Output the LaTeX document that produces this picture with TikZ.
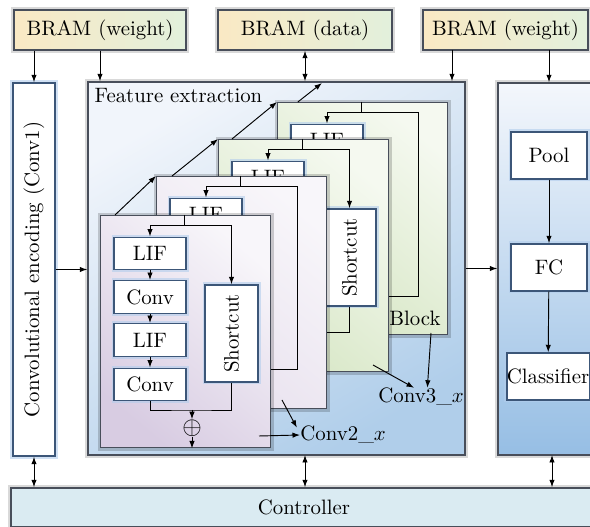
\documentclass[tikz,border=0pt]{standalone}
\usepackage{amsmath,amssymb}
\usepackage{tikz}
\usetikzlibrary{arrows.meta,positioning}

\definecolor{bramL}{RGB}{250,233,196}
\definecolor{bramR}{RGB}{226,240,220}
\definecolor{edge}{RGB}{72,78,90}
\definecolor{boxedge}{RGB}{60,86,120}
\definecolor{glow}{RGB}{178,205,236}
\definecolor{feTop}{RGB}{241,245,251}
\definecolor{feBot}{RGB}{176,206,234}
\definecolor{clsTop}{RGB}{244,247,252}
\definecolor{clsBot}{RGB}{150,190,228}
\definecolor{ctrl}{RGB}{218,235,242}
\definecolor{lavD}{RGB}{216,204,226}
\definecolor{lavL}{RGB}{248,246,250}
\definecolor{grnD}{RGB}{214,230,196}
\definecolor{grnL}{RGB}{245,249,240}

\tikzset{
  soft/.style={preaction={draw=black, opacity=0.15, line width=2.6pt}},
  bram/.style={draw=edge, line width=0.7pt, left color=bramL, right color=bramR, soft,
    minimum height=19.2pt, inner sep=0pt},
  unit/.style={draw=boxedge, line width=0.7pt, fill=white,
    preaction={draw=glow, line width=2.4pt, opacity=0.6},
    inner sep=0pt, minimum width=34.56pt, minimum height=15.6pt},
  blockbox/.style={draw=edge, line width=0.7pt,
    preaction={draw=black, opacity=0.18, line width=2.8pt},
    minimum width=81.6pt, minimum height=111.36pt, anchor=north west, inner sep=0pt},
  wire/.style={line width=0.45pt},
  arr/.style={-{Latex[length=3.6pt,width=2.6pt]}, line width=0.45pt},
  darr/.style={{Latex[length=3.6pt,width=2.6pt]}-{Latex[length=3.6pt,width=2.6pt]}, line width=0.45pt}
}

\begin{document}
\begin{tikzpicture}[x=0.48pt, y=-0.48pt]
\useasboundingbox (0,0) rectangle (590,527);

% memories and controller
\node[bram, minimum width=82.56pt] (bramw1) at (100,30) {BRAM (weight)};
\node[bram, minimum width=83.52pt] (bramd) at (305,30) {BRAM (data)};
\node[bram, minimum width=79.2pt] (bramw2) at (505.5,30) {BRAM (weight)};
\node[draw=edge, line width=0.7pt, fill=ctrl, soft, minimum width=281.28pt, minimum height=18.72pt,
  inner sep=0pt] (ctrl) at (304,507.5) {Controller};

% main stages
\node[unit, minimum width=20.16pt, minimum height=179.04pt,
  label={[rotate=90]center:Convolutional encoding (Conv1)}] (conv1) at (34,269.5) {};
\node[draw=edge, line width=0.7pt, top color=feTop, bottom color=feBot, shading angle=30, soft,
  minimum width=180.96pt, minimum height=179.04pt, inner sep=0pt] (fe) at (276.5,268.5) {};
\node[anchor=north west] (fetitle) at (fe.north west) {Feature extraction};
\node[draw=edge, line width=0.7pt, top color=clsTop, bottom color=clsBot, soft,
  minimum width=53.76pt, minimum height=178.56pt, inner sep=0pt] (cls) at (554,269) {};
\node[unit, minimum width=36.48pt, minimum height=22.56pt] (pool) at (549,155.5) {Pool};
\node[unit, minimum width=36.48pt, minimum height=22.56pt] (fc) at (549,267.5) {FC};
\node[unit, minimum width=39.36pt, minimum height=22.56pt] (clsf) at (548,376.5) {Classifier};

% block 4
\node[blockbox, top color=grnL, bottom color=grnD, shading angle=-40] (blk4) at (277,102) {};
\begin{scope}[shift={(277,102)}]
\node[unit] (lif4) at (50,38.5) {LIF};
\coordinate (in4) at (84,0);
\coordinate (fork4) at (84,10);
\draw[wire] (in4) -- (fork4);
\draw[arr] (fork4) -| (lif4.north);
\draw[wire] (fork4) -| (141,194) -- (50,194);
\end{scope}
\node (blklabel) at (415,318) {Block};

% block 3
\node[blockbox, top color=grnL, bottom color=grnD, shading angle=-40] (blk3) at (218,139) {};
\begin{scope}[shift={(218,139)}]
\node[unit] (lifa3) at (50,38.5) {LIF};
\node[unit, minimum width=25.44pt, minimum height=46.56pt,
  label={[rotate=90]center:Shortcut}] (sc3) at (131.5,118.5) {};
\coordinate (in3) at (84,0);
\coordinate (fork3) at (84,10);
\draw[wire] (in3) -- (fork3);
\draw[arr] (fork3) -| (lifa3.north);
\draw[arr] (fork3) -| (sc3.north);
\draw[wire] (sc3.south) |- (50,193);
\end{scope}

% block 2
\node[blockbox, top color=lavL, bottom color=lavD!60, shading angle=-40] (blk2) at (156,176) {};
\begin{scope}[shift={(156,176)}]
\node[unit] (lif2) at (50,38.5) {LIF};
\coordinate (in2) at (84,0);
\coordinate (fork2) at (84,10);
\draw[wire] (in2) -- (fork2);
\draw[arr] (fork2) -| (lif2.north);
\draw[wire] (fork2) -| (141,193) -- (50,193);
\end{scope}

% block 1
\node[blockbox, top color=lavL, bottom color=lavD, shading angle=-40] (blk1) at (100,215) {};
\begin{scope}[shift={(100,215)}]
\node[unit] (lifa1) at (50,38.5) {LIF};
\node[unit] (conva1) at (50,82) {Conv};
\node[unit] (lifb1) at (50,125) {LIF};
\node[unit] (convb1) at (50,169.5) {Conv};
\node[unit, minimum width=25.44pt, minimum height=46.56pt,
  label={[rotate=90]center:Shortcut}] (sc1) at (131.5,118.5) {};
\node[inner sep=0pt] (add1) at (92,213) {\large$\oplus$};
\coordinate (in1) at (84,0);
\coordinate (fork1) at (84,10);
\coordinate (join1) at (92,195);
\draw[wire] (in1) -- (fork1);
\draw[arr] (fork1) -| (lifa1.north);
\draw[arr] (fork1) -| (sc1.north);
\draw[arr] (lifa1) -- (conva1);
\draw[arr] (conva1) -- (lifb1);
\draw[arr] (lifb1) -- (convb1);
\draw[wire] (convb1.south) |- (join1) -| (sc1.south);
\draw[arr] (join1) -- (add1.north);
\draw[arr] (add1.south) -- (add1.south |- blk1.south);
\end{scope}

% stacking arrows
\coordinate (fetop) at (322,83);
\draw[arr] ([xshift=7.2pt]blk1.north west) -- (blk2.north west);
\draw[arr] ([xshift=7.7pt]blk2.north west) -- (blk3.north west);
\draw[arr] ([xshift=6.7pt]blk3.north west) -- (blk4.north west);
\draw[arr] ([xshift=10pt]blk4.north west) -- (fetop);

% stage labels
\node[anchor=west, inner sep=0pt] (c2x) at (300,435) {Conv2\_$x$};
\node[anchor=west, inner sep=0pt] (c3x) at (378,397) {Conv3\_$x$};
\coordinate (c2a) at (259,436);
\coordinate (c2b) at (282,400);
\coordinate (c3a) at (373,365);
\coordinate (c3b) at (431,333);
\draw[arr] (c2a) -- (c2x.west);
\draw[arr] (c2b) -- ([xshift=-1.5pt,yshift=3.5pt]c2x.west);
\draw[arr] (c3a) -- ([xshift=-3.4pt]c3x.north);
\draw[arr] (c3b) -- ([xshift=3pt]c3x.north);

% data paths
\coordinate (w2a) at (452,50);
\coordinate (w2b) at (549,50);
\coordinate (ctl1) at (305,455);
\coordinate (ctl2) at (552,455);
\draw[arr] (bramw1.south -| conv1) -- (conv1.north);
\draw[arr] (bramw1.south) -- (bramw1.south |- fe.north);
\draw[darr] (bramd.south) -- (bramd.south |- fe.north);
\draw[arr] (w2a) -- (w2a |- fe.north);
\draw[arr] (w2b) -- (w2b |- cls.north);
\draw[arr] (conv1.east) -- (conv1.east -| fe.west);
\draw[arr] (fe.east) -- (fe.east -| cls.west);
\draw[arr] (pool) -- (fc);
\draw[arr] (fc) -- (clsf);
\draw[darr] (conv1.south) -- (conv1.south |- ctrl.north);
\draw[darr] (ctl1) -- (ctl1 |- ctrl.north);
\draw[darr] (ctl2) -- (ctl2 |- ctrl.north);
\end{tikzpicture}
\end{document}
